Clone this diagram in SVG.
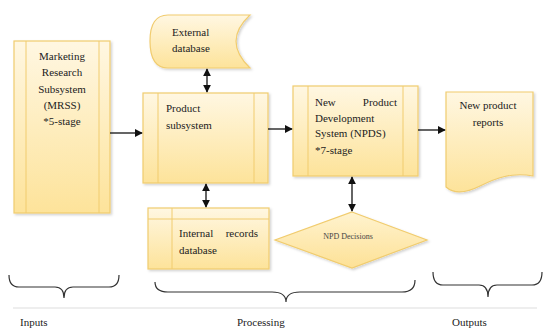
<svg xmlns="http://www.w3.org/2000/svg" width="544" height="329" viewBox="0 0 544 329">
<defs>
<linearGradient id="g" x1="0" y1="0" x2="0" y2="1">
<stop offset="0" stop-color="#fff7e2"/>
<stop offset="1" stop-color="#fde39a"/>
</linearGradient>
<linearGradient id="g2" x1="0" y1="0" x2="0" y2="1">
<stop offset="0" stop-color="#fff3cf"/>
<stop offset="1" stop-color="#fde196"/>
</linearGradient>
<filter id="sh" x="-10%" y="-10%" width="130%" height="130%">
<feDropShadow dx="1.5" dy="1.5" stdDeviation="1" flood-color="#000" flood-opacity="0.18"/>
</filter>
<marker id="ah" viewBox="0 0 10 10" refX="9" refY="5" markerWidth="8" markerHeight="8" markerUnits="userSpaceOnUse" orient="auto-start-reverse">
<path d="M0,0 L10,5 L0,10 Z" fill="#111"/>
</marker>
</defs>
<style>
.box{fill:url(#g);stroke:#f1cc6e;stroke-width:1.2;filter:url(#sh)}
.in{stroke:#f1cc6e;stroke-width:1;fill:none}
.t{font-family:"Liberation Serif","DejaVu Serif",serif;font-size:11px;fill:#222}
.s{font-family:"Liberation Serif","DejaVu Serif",serif;font-size:8px;fill:#444}
.c{stroke:#111;stroke-width:1.3;fill:none}
.br{stroke:#333;stroke-width:1.2;fill:none}
</style>
<g id="mrss">
<rect class="box" x="14" y="41" width="96" height="172"/>
<line class="in" x1="26" y1="41" x2="26" y2="213"/>
<line class="in" x1="99" y1="41" x2="99" y2="213"/>
<text class="t" text-anchor="middle"><tspan x="62" y="60">Marketing</tspan><tspan x="62" y="76">Research</tspan><tspan x="62" y="93">Subsystem</tspan><tspan x="62" y="109">(MRSS)</tspan><tspan x="62" y="125">*5-stage</tspan></text>
</g>
<g id="external">
<path class="box" d="M168,15 H250 Q222,41 250,68 H168 Q150,68 150,41 Q150,15 168,15 Z"/>
<text class="t"><tspan x="172" y="36">External</tspan><tspan x="172" y="52">database</tspan></text>
</g>
<g id="product">
<rect class="box" x="143" y="93" width="125" height="90"/>
<line class="in" x1="158" y1="93" x2="158" y2="183"/>
<line class="in" x1="254" y1="93" x2="254" y2="183"/>
<text class="t"><tspan x="166" y="112">Product</tspan><tspan x="166" y="129">subsystem</tspan></text>
</g>
<g id="internal">
<rect class="box" x="148" y="208" width="121" height="61"/>
<line class="in" x1="148" y1="219" x2="269" y2="219"/>
<line class="in" x1="172" y1="208" x2="172" y2="269"/>
<text class="t"><tspan x="179" y="237">Internal</tspan><tspan x="258" y="237" text-anchor="end">records</tspan><tspan x="179" y="254">database</tspan></text>
</g>
<g id="npds">
<rect class="box" x="293" y="86" width="125" height="90"/>
<line class="in" x1="308" y1="86" x2="308" y2="176"/>
<line class="in" x1="403" y1="86" x2="403" y2="176"/>
<text class="t"><tspan x="315" y="106">New</tspan><tspan x="397" y="106" text-anchor="end">Product</tspan><tspan x="315" y="122">Development</tspan><tspan x="315" y="137">System (NPDS)</tspan><tspan x="315" y="154">*7-stage</tspan></text>
</g>
<g id="decisions">
<path class="box" style="fill:url(#g2)" d="M352,212 L427,240 L352,268 L275,240 Z"/>
<text class="s" x="348" y="239" text-anchor="middle">NPD Decisions</text>
</g>
<g id="reports">
<path class="box" d="M446,92 H533 V176 C512,172 496,178 480,186 C466,193 454,194 446,187 Z"/>
<text class="t" text-anchor="middle"><tspan x="488" y="109">New product</tspan><tspan x="488" y="126">reports</tspan></text>
</g>
<g id="connectors">
<line class="c" x1="110" y1="133" x2="142" y2="133" marker-end="url(#ah)"/>
<line class="c" x1="268" y1="129" x2="292" y2="129" marker-end="url(#ah)"/>
<line class="c" x1="418" y1="130" x2="445" y2="130" marker-end="url(#ah)"/>
<line class="c" x1="207" y1="69" x2="207" y2="92" marker-start="url(#ah)" marker-end="url(#ah)"/>
<line class="c" x1="206" y1="184" x2="206" y2="207" marker-start="url(#ah)" marker-end="url(#ah)"/>
<line class="c" x1="352" y1="177" x2="352" y2="211" marker-start="url(#ah)" marker-end="url(#ah)"/>
</g>
<g id="braces">
<path class="br" d="M9,275 Q9,287 19,287 H55 Q64,287 64,298 Q64,287 73,287 H109 Q119,287 119,275"/>
<path class="br" d="M155,282 Q155,292 168,292 H272 Q286,292 286,302 Q286,292 300,292 H402 Q415,292 415,280"/>
<path class="br" d="M433,272 Q433,285 443,285 H479 Q488,285 488,297 Q488,285 497,285 H532 Q542,285 542,272"/>
<line x1="13" y1="308" x2="537" y2="308" stroke="#ddd" stroke-width="1"/>
<text class="t" x="20" y="326">Inputs</text>
<text class="t" x="237" y="326">Processing</text>
<text class="t" x="452" y="326">Outputs</text>
</g>
</svg>
